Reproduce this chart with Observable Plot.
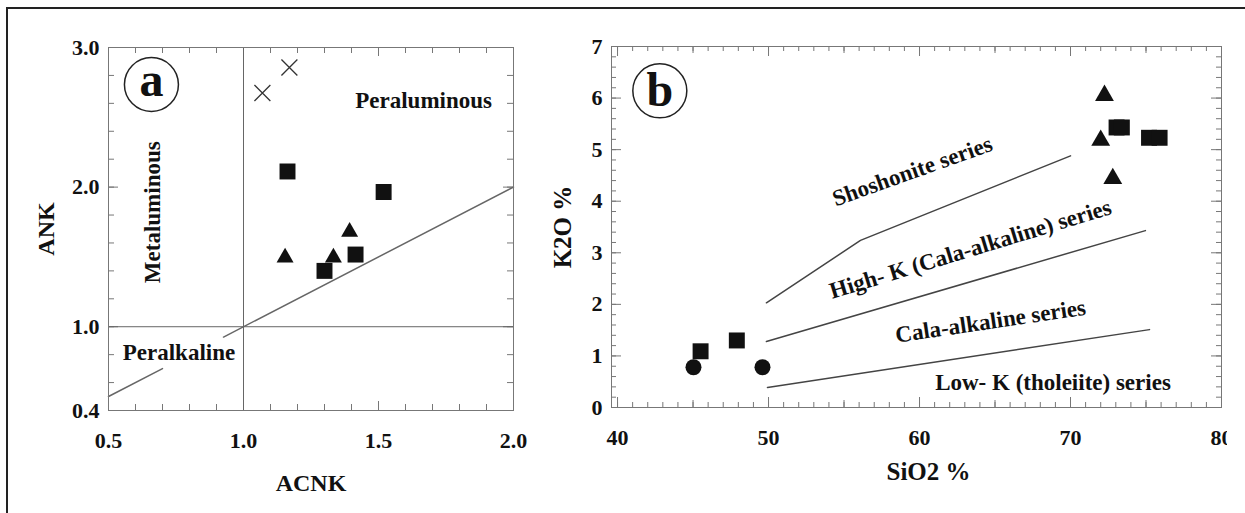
<!DOCTYPE html>
<html><head><meta charset="utf-8">
<script src="https://cdn.jsdelivr.net/npm/d3@7"></script>
<script src="https://cdn.jsdelivr.net/npm/@observablehq/plot@0.6"></script>
<style>
body{margin:0;background:#fff;width:1245px;height:513px;overflow:hidden;position:relative;font-family:"Liberation Serif",serif;}
#frame{position:absolute;left:6px;top:7px;width:1260px;height:520px;border-left:2px solid #222;border-top:2px solid #222;}
#a{position:absolute;left:9px;top:10px;}
#b{position:absolute;left:549px;top:10px;width:678px;height:503px;overflow:hidden;}
</style></head><body>
<div id="frame"></div>
<div id="a"></div><div id="b"></div>
<script>
// ---------- Panel a data (ACNK vs ANK) ----------
const crossACNK = [1.07, 1.17];
const crossANK  = [2.674, 2.857];
const squareACNK = [1.163, 1.519, 1.30, 1.415];
const squareANK  = [2.112, 1.965, 1.40, 1.517];
const triACNK = [1.154, 1.333, 1.393];
const triANK  = [1.496, 1.496, 1.68];
const aTickX = [0.5, 1.0, 1.5, 2.0];
const aTickY = [0.4, 1.0, 2.0, 3.0];
const aDivideACNK = [1.0];
const aDivideANK = [1.0];
const aDiagLow = [0.5, 0.70];     // y = x segment below label
const aDiagHigh = [0.926, 2.0];   // y = x segment above label
const aFieldNames = ["Peraluminous", "Metaluminous", "Peralkaline"];
const aFieldACNK = [1.667, 0.663, 0.761];
const aFieldANK = [2.62, 1.82, 0.815];
const aBadge = ["a"], aBadgeACNK = [0.659], aBadgeANK = [2.735];

// ---------- Panel b data (SiO2 vs K2O) ----------
const circSiO2 = [45.03, 49.6];
const circK2O  = [0.78, 0.78];
const sqSiO2 = [45.5, 47.9, 73.05, 73.4, 75.2, 75.9];
const sqK2O  = [1.09, 1.30, 5.43, 5.43, 5.23, 5.23];
const triSiO2 = [72.25, 72.0, 72.8];
const triK2O  = [6.05, 5.18, 4.44];
const bTickX = [40, 50, 60, 70, 80];
const bTickY = [0, 1, 2, 3, 4, 5, 6, 7];
const shoshSiO2 = [49.86, 56.09, 70.0], shoshK2O = [2.03, 3.24, 4.88];
const highKSiO2 = [49.86, 74.96], highKK2O = [1.28, 3.43];
const lowKSiO2 = [49.93, 75.23], lowKK2O = [0.39, 1.51];
const seriesNames = ["Shoshonite series", "High- K (Cala-alkaline) series", "Cala-alkaline series", "Low- K (tholeiite) series"];
const seriesSiO2 = [59.53, 63.37, 64.7, 68.84];
const seriesK2O = [4.58, 3.07, 1.67, 0.485];
const bBadge = ["b"], bBadgeSiO2 = [42.8], bBadgeK2O = [6.14];

const zip = (xs, ys) => xs.map((x, i) => ({x, y: ys[i]}));
const ink = "#111", tickC = "#777", lineC = "#666";
const font = "Liberation Serif";

function tickMarksX(values, len, H) {
  return [Plot.ruleX(values, {insetTop: H - len, stroke: tickC}),
          Plot.ruleX(values, {insetBottom: H - len, stroke: tickC})];
}
function tickMarksY(values, len, W) {
  return [Plot.ruleY(values, {insetRight: W - len, stroke: tickC}),
          Plot.ruleY(values, {insetLeft: W - len, stroke: tickC})];
}

// ---------- Panel a ----------
{
  const width = 540, height = 503, mL = 99, mR = 36, mT = 37, mB = 103;
  const W = width - mL - mR, H = height - mT - mB;
  const fmt = d3.format(".1f");
  const plotA = Plot.plot({
    width, height, marginLeft: mL, marginRight: mR, marginTop: mT, marginBottom: mB,
    style: {fontFamily: font, fontSize: "22px", fontWeight: "bold", color: ink, background: "white"},
    x: {domain: [0.5, 2.0]},
    y: {domain: [0.4, 3.0]},
    marks: [
      ...tickMarksX(d3.range(0.5, 2.001, 0.1), 6, H),
      ...tickMarksX(aTickX, 9, H),
      ...tickMarksY(d3.range(0.4, 3.001, 0.2), 6, W),
      ...tickMarksY([1.0, 2.0, 3.0], 10, W),
      Plot.ruleX(aDivideACNK, {stroke: lineC}),
      Plot.ruleY(aDivideANK, {stroke: lineC}),
      Plot.line(zip(aDiagLow, aDiagLow), {x: "x", y: "y", stroke: lineC}),
      Plot.line(zip(aDiagHigh, aDiagHigh), {x: "x", y: "y", stroke: lineC}),
      Plot.frame({stroke: tickC}),
      Plot.axisX(aTickX, {tickSize: 0, tickPadding: 22, tickFormat: fmt, fontSize: 22, label: null}),
      Plot.axisY(aTickY, {tickSize: 0, tickPadding: 9, tickFormat: fmt, fontSize: 22, label: null}),
      Plot.text(["ACNK"], {frameAnchor: "bottom", textAnchor: "middle", lineAnchor: "middle", dy: 73, fontSize: 24}),
      Plot.text(["ANK"], {frameAnchor: "left", textAnchor: "middle", lineAnchor: "middle", dx: -62, rotate: -90, fontSize: 24}),
      Plot.text(zip(aFieldACNK, aFieldANK).map((d, i) => ({...d, t: aFieldNames[i]})),
        {x: "x", y: "y", text: "t", fontSize: 23, rotate: (d) => d.t === "Metaluminous" ? -90 : 0}),
      Plot.dot(zip(aBadgeACNK, aBadgeANK), {x: "x", y: "y", r: 27, stroke: "#222", strokeWidth: 1.5, fill: "none"}),
      Plot.text(zip(aBadgeACNK, aBadgeANK), {x: "x", y: "y", text: () => aBadge[0], fontSize: 48, dy: -4}),
      Plot.dot(zip(crossACNK, crossANK), {x: "x", y: "y", symbol: "times", r: 7.3, stroke: "#333", strokeWidth: 1.3}),
      Plot.dot(zip(squareACNK, squareANK), {x: "x", y: "y", symbol: "square", r: 9, fill: ink}),
      Plot.dot(zip(triACNK, triANK), {x: "x", y: "y", symbol: "triangle", r: 6.3, fill: ink})
    ]
  });
  document.getElementById("a").append(plotA);
}

// ---------- Panel b ----------
{
  const width = 678, height = 503, mL = 62, mR = 6, mT = 36, mB = 106;
  const W = width - mL - mR, H = height - mT - mB;
  const angles = [-19.6, -16.9, -8.4, 0];
  const plotB = Plot.plot({
    width, height, marginLeft: mL, marginRight: mR, marginTop: mT, marginBottom: mB,
    style: {fontFamily: font, fontSize: "22px", fontWeight: "bold", color: ink, background: "white"},
    x: {domain: [39.6, 80]},
    y: {domain: [0, 7]},
    marks: [
      ...tickMarksX(d3.range(40, 81, 1), 5, H),
      ...tickMarksX([45, 55, 65, 75], 7, H),
      ...tickMarksX(bTickX, 10, H),
      ...tickMarksY(d3.range(0, 7.001, 0.2), 5, W),
      ...tickMarksY(bTickY, 10, W),
      Plot.line(zip(shoshSiO2, shoshK2O), {x: "x", y: "y", stroke: "#444"}),
      Plot.line(zip(highKSiO2, highKK2O), {x: "x", y: "y", stroke: "#444"}),
      Plot.line(zip(lowKSiO2, lowKK2O), {x: "x", y: "y", stroke: "#444"}),
      Plot.frame({stroke: tickC}),
      Plot.axisX(bTickX, {tickSize: 0, tickPadding: 22, tickFormat: d3.format("d"), fontSize: 22, label: null}),
      Plot.axisY(bTickY, {tickSize: 0, tickPadding: 9, tickFormat: d3.format("d"), fontSize: 22, label: null}),
      Plot.text(["SiO2 %"], {frameAnchor: "bottom", textAnchor: "middle", lineAnchor: "middle", dx: 12, dy: 64, fontSize: 25}),
      Plot.text(["K2O %"], {frameAnchor: "left", textAnchor: "middle", lineAnchor: "middle", dx: -49, rotate: -90, fontSize: 25}),
      ...seriesNames.map((name, i) => Plot.text([{x: seriesSiO2[i], y: seriesK2O[i], t: name}],
        {x: "x", y: "y", text: "t", fontSize: 23, rotate: angles[i]})),
      Plot.dot(zip(bBadgeSiO2, bBadgeK2O), {x: "x", y: "y", r: 27, stroke: "#222", strokeWidth: 1.5, fill: "none"}),
      Plot.text(zip(bBadgeSiO2, bBadgeK2O), {x: "x", y: "y", text: () => bBadge[0], fontSize: 48, dy: 0}),
      Plot.dot(zip(circSiO2, circK2O), {x: "x", y: "y", symbol: "circle", r: 8, fill: ink}),
      Plot.dot(zip(sqSiO2, sqK2O), {x: "x", y: "y", symbol: "square", r: 9, fill: ink}),
      Plot.dot(zip(triSiO2, triK2O), {x: "x", y: "y", symbol: "triangle", r: 7, fill: ink})
    ]
  });
  document.getElementById("b").append(plotB);
}
</script>
</body></html>
